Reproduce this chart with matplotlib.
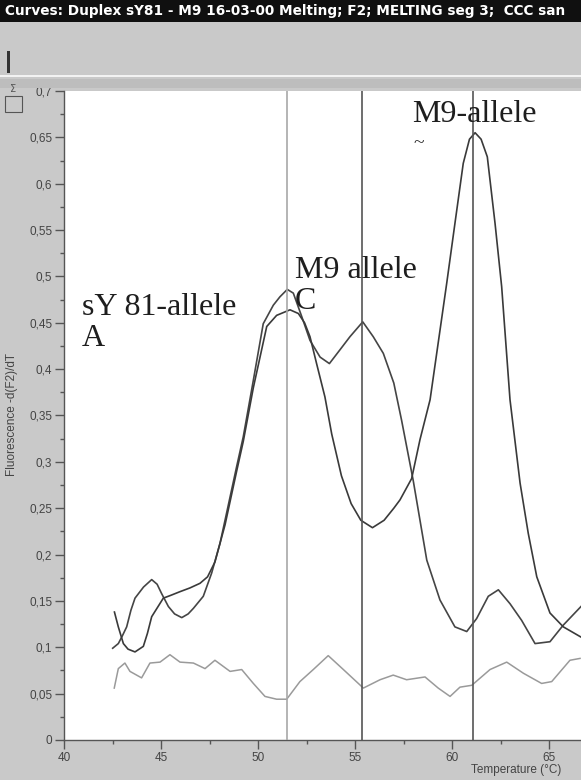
import matplotlib
matplotlib.use("Agg")
import matplotlib.pyplot as plt
from matplotlib.patches import Rectangle
from matplotlib.ticker import MultipleLocator, FuncFormatter

# ---------------- data ----------------
title_text = "Curves: Duplex sY81 - M9 16-03-00 Melting; F2; MELTING seg 3;  CCC san"
y_label = "Fluorescence -d(F2)/dT"
x_label = "Temperature (\u00b0C)"

# curve with the small bump at ~44.5 and the double peak 51.5 / 55.4
t_c1 = [42.51, 42.8, 43.0, 43.23, 43.45, 43.66, 44.1, 44.52, 44.8, 45.03, 45.38, 45.7,
        46.07, 46.4, 46.67, 47.18, 47.61, 48.04, 48.3, 48.9, 49.24, 49.76, 50.27, 50.79,
        51.13, 51.51, 51.82, 52.25, 52.68, 53.2, 53.68, 54.23, 54.74, 55.4, 55.94, 56.46,
        57.0, 57.4, 58.0, 58.7, 59.38, 60.15, 60.76, 61.27, 61.87, 62.39, 62.99, 63.59,
        64.28, 65.05, 65.74, 66.65]
v_c1 = [0.099, 0.104, 0.112, 0.122, 0.140, 0.153, 0.165, 0.173, 0.168, 0.158, 0.144, 0.136,
        0.132, 0.136, 0.142, 0.155, 0.180, 0.212, 0.237, 0.295, 0.327, 0.388, 0.449, 0.469,
        0.478, 0.486, 0.482, 0.457, 0.431, 0.413, 0.406, 0.421, 0.435, 0.451, 0.435, 0.417,
        0.385, 0.345, 0.280, 0.194, 0.151, 0.122, 0.117, 0.131, 0.155, 0.162, 0.147, 0.129,
        0.104, 0.106, 0.124, 0.144]

# curve with peaks 51.6 and 61.2 (M9-allele)
t_c2 = [42.6, 42.8, 43.06, 43.3, 43.66, 44.09, 44.3, 44.52, 45.12, 45.5, 45.98, 46.49,
        47.01, 47.4, 47.78, 48.3, 48.9, 49.24, 49.76, 50.45, 50.96, 51.65, 52.08, 52.4,
        52.68, 53.02, 53.45, 53.8, 54.3, 54.8, 55.3, 55.9, 56.5, 57.0, 57.32, 57.92,
        58.35, 58.87, 59.3, 59.73, 60.15, 60.58, 60.9, 61.19, 61.5, 61.82, 62.22, 62.56,
        62.99, 63.51, 63.93, 64.37, 65.05, 65.74, 66.65]
v_c2 = [0.138, 0.122, 0.104, 0.098, 0.095, 0.101, 0.115, 0.133, 0.153, 0.156, 0.160, 0.164,
        0.169, 0.176, 0.192, 0.232, 0.290, 0.322, 0.380, 0.446, 0.458, 0.464, 0.460, 0.450,
        0.435, 0.406, 0.370, 0.330, 0.285, 0.255, 0.237, 0.229, 0.237, 0.250, 0.259, 0.282,
        0.324, 0.367, 0.430, 0.493, 0.557, 0.622, 0.648, 0.655, 0.648, 0.629, 0.557, 0.489,
        0.367, 0.277, 0.223, 0.176, 0.137, 0.122, 0.111]

# light grey baseline curve
t_base = [42.59, 42.8, 43.14, 43.4, 44.0, 44.43, 44.95, 45.46, 45.98, 46.67, 47.27, 47.78,
          48.56, 49.16, 49.76, 50.36, 50.96, 51.48, 52.16, 52.85, 53.62, 54.4, 55.43, 56.29,
          56.97, 57.66, 58.61, 59.29, 59.9, 60.41, 61.02, 61.96, 62.82, 63.68, 64.62, 65.14,
          66.08, 66.6]
v_base = [0.056, 0.077, 0.083, 0.074, 0.067, 0.083, 0.084, 0.092, 0.084, 0.083, 0.077, 0.086,
          0.074, 0.076, 0.061, 0.047, 0.044, 0.044, 0.063, 0.076, 0.091, 0.076, 0.056, 0.065,
          0.070, 0.065, 0.068, 0.056, 0.047, 0.057, 0.059, 0.076, 0.084, 0.072, 0.061, 0.063,
          0.086, 0.088]

# vertical marker lines (temperatures)
marker_t = [51.5, 55.35, 61.1]
marker_colors = ["#a8a8a8", "#555555", "#555555"]

# annotations
labels_text = ["sY 81-allele\nA", "M9 allele\nC", "M9-allele"]
labels_xy = [(40.93, 0.482), (51.91, 0.522), (57.94, 0.690)]

# ---------------- figure ----------------
W, H = 581, 780
BG = "#c9c9c9"
fig = plt.figure(figsize=(W / 100, H / 100), dpi=100, facecolor=BG)

# title bar
fig.patches.append(Rectangle((0, 1 - 22 / H), 1, 22 / H, transform=fig.transFigure,
                             facecolor="#101010", edgecolor="none", zorder=0))
fig.text(5 / W, 1 - 11 / H, title_text, color="white", fontsize=9.8, fontweight="bold",
         family=["DejaVu Sans"], ha="left", va="center")
# toolbar details
fig.patches.append(Rectangle((0, 1 - 77 / H), 1, 2 / H, transform=fig.transFigure,
                             facecolor="#f2f2f2", edgecolor="none"))
fig.patches.append(Rectangle((0, 1 - 88 / H), 1, 9 / H, transform=fig.transFigure,
                             facecolor="#bdbdbd", edgecolor="none"))
fig.patches.append(Rectangle((7 / W, 1 - 73 / H), 2.5 / W, 22 / H, transform=fig.transFigure,
                             facecolor="#333333", edgecolor="none"))
fig.patches.append(Rectangle((5 / W, 1 - 112 / H), 17 / W, 16 / H, transform=fig.transFigure,
                             facecolor="none", edgecolor="#555555", linewidth=0.8))
fig.text(13 / W, 1 - 89 / H, "\u03a3", fontsize=7, color="#555555", ha="center", va="center")

# axes
left, right, top, bottom = 64, 581, 91, 740
x0, xpp = 40.0, 19.4
ax = fig.add_axes([left / W, 1 - bottom / H, (right - left) / W, (bottom - top) / H])
ax.set_facecolor("white")
ax.set_xlim(x0, x0 + (right - left) / xpp)
ax.set_ylim(0, 0.7)

for s in ["top", "right"]:
    ax.spines[s].set_visible(False)
for s in ["left", "bottom"]:
    ax.spines[s].set_color("#555555")
    ax.spines[s].set_linewidth(1.0)

ax.xaxis.set_major_locator(MultipleLocator(5))
ax.xaxis.set_minor_locator(MultipleLocator(2.5))
ax.yaxis.set_major_locator(MultipleLocator(0.05))
ax.yaxis.set_minor_locator(MultipleLocator(0.025))

def fmt(v, pos):
    s = f"{v:.2f}".rstrip("0").rstrip(".")
    return s.replace(".", ",")

ax.yaxis.set_major_formatter(FuncFormatter(fmt))
ax.xaxis.set_major_formatter(FuncFormatter(lambda v, p: f"{v:.0f}"))
ax.tick_params(which="major", length=6.5, width=1.0, color="#555555", labelsize=8.5,
               labelcolor="#444444", pad=2)
ax.tick_params(which="minor", length=3, width=1.0, color="#555555")
for lab in ax.get_xticklabels() + ax.get_yticklabels():
    lab.set_family(["Liberation Sans"])

# curves
ax.plot(t_base, v_base, color="#9a9a9a", lw=1.1, zorder=3)
ax.plot(t_c1, v_c1, color="#454545", lw=1.2, zorder=4)
ax.plot(t_c2, v_c2, color="#3a3a3a", lw=1.2, zorder=4)

for t, c in zip(marker_t, marker_colors):
    ax.axvline(t, color=c, lw=1.2, zorder=5)

for txt, (x, y) in zip(labels_text, labels_xy):
    ax.text(x, y, txt, family=["Liberation Serif"], fontsize=23, color="#1e1e1e",
            ha="left", va="top", linespacing=1.1, zorder=6)
ax.text(58.0, 0.643, "~", family=["Liberation Serif"], fontsize=14, color="#1e1e1e",
        ha="left", va="center", zorder=6)

fig.text(12 / W, 1 - 414 / H, y_label, rotation=90, fontsize=8.5, color="#444444",
         family=["Liberation Sans"], ha="center", va="center")
fig.text(561 / W, 1 - 770 / H, x_label, fontsize=8.5, color="#444444",
         family=["Liberation Sans"], ha="right", va="center")

fig.savefig("out.png", dpi=100, facecolor=BG)
